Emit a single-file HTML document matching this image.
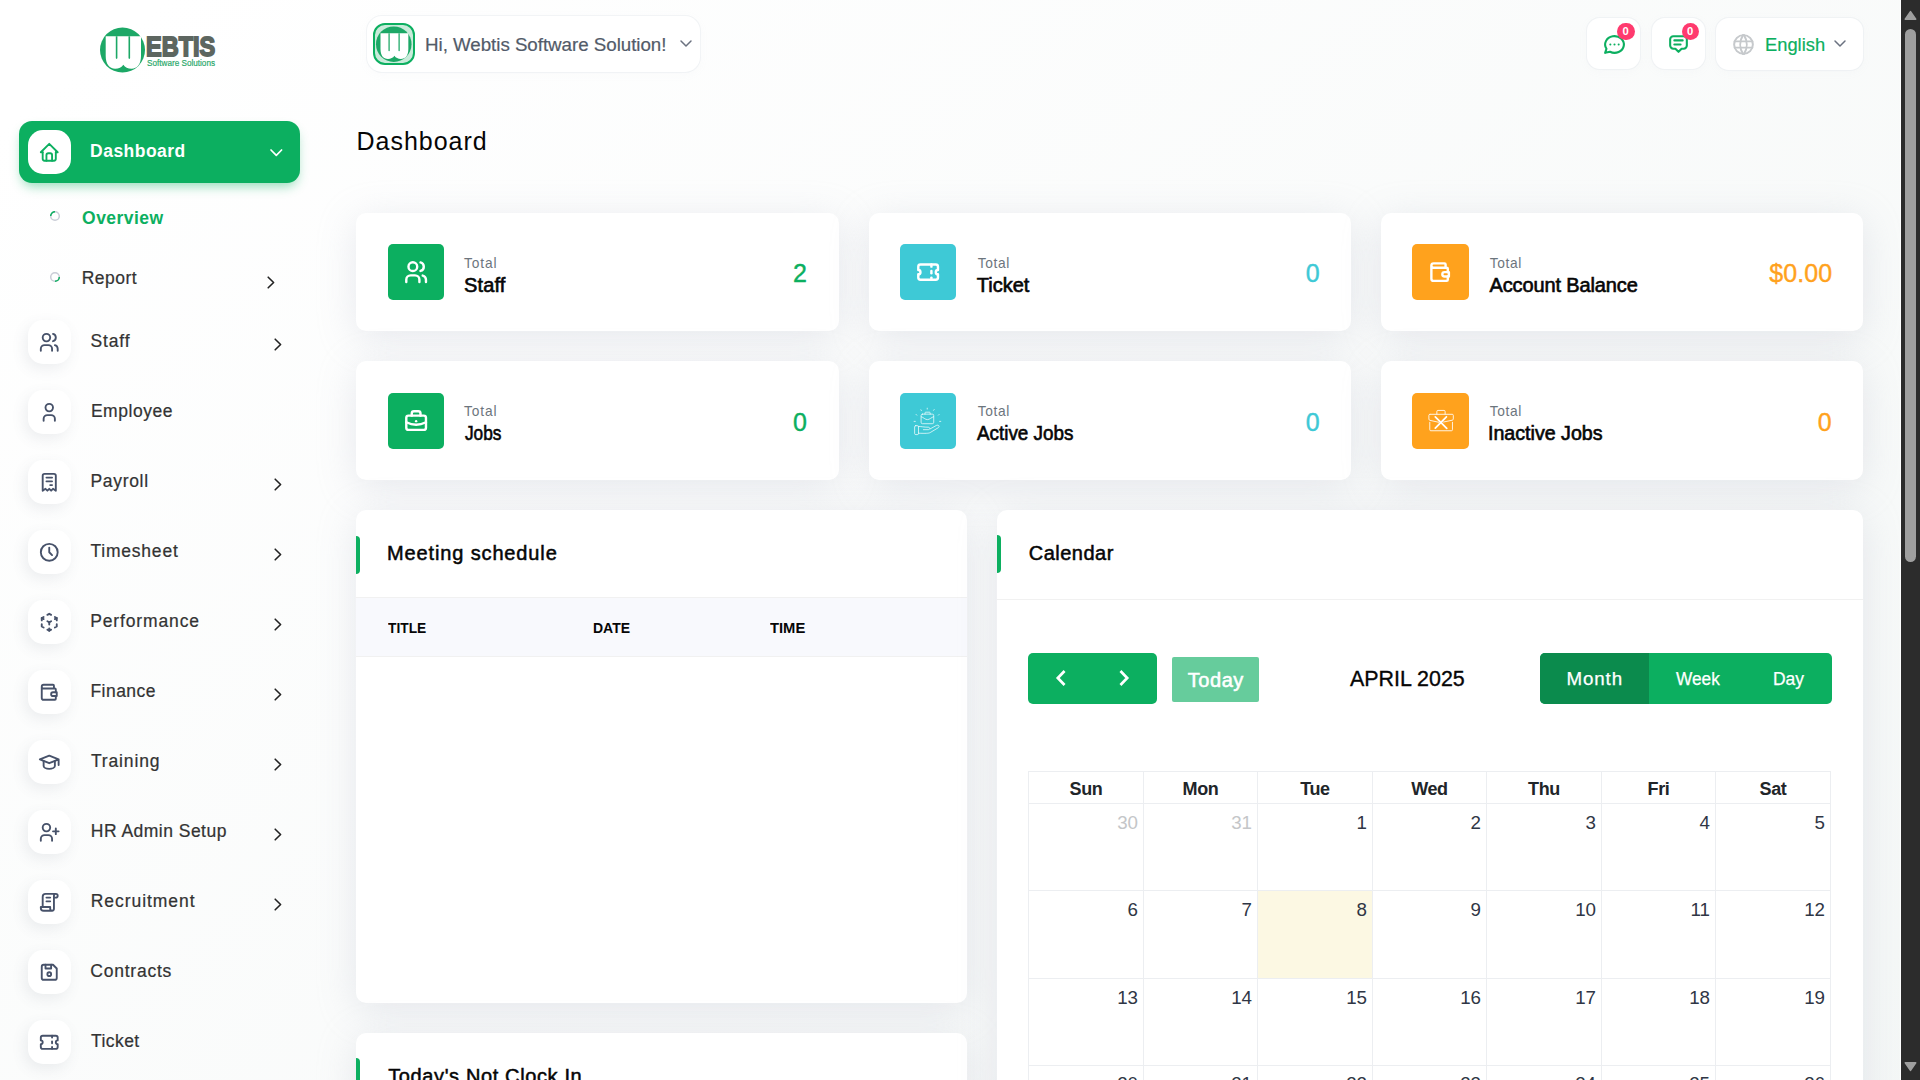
<!DOCTYPE html>
<html lang="en">
<head>
<meta charset="utf-8">
<title>Dashboard</title>
<style>
*{box-sizing:border-box;margin:0;padding:0}
html,body{width:1920px;height:1080px;overflow:hidden}
body{font-family:"Liberation Sans",sans-serif;color:#293240;background:#fff}
#page{position:relative;width:1920px;height:1080px;overflow:hidden;
 background:linear-gradient(141.55deg,rgba(240,244,243,0) 3.46%,#f0f4f3 99.86%) 0 0/1901px 2111px no-repeat,#fff}
.abs{position:absolute}
.t{position:absolute;white-space:nowrap;line-height:1}
svg{display:block;overflow:visible}

/* scrollbar */
#sb{position:absolute;left:1901px;top:0;width:19px;height:1080px;background:#2c2c2c}
#sbw{position:absolute;left:1900px;top:0;width:1px;height:1080px;background:#fff}
#sb .thumb{position:absolute;left:4px;top:29px;width:11px;height:533px;border-radius:6px;background:#9f9f9f}

/* sidebar */
.nav-active{position:absolute;left:19px;top:121px;width:281px;height:62px;border-radius:13px;background:#0caf60;
 box-shadow:0 6px 12px -3px rgba(12,175,96,.45)}
.ibox{position:absolute;left:28px;width:43px;height:43.500px;border-radius:15px;background:#fff;
 box-shadow:-3px 5px 14px rgba(90,100,120,.10)}
.ibox svg{position:absolute;left:10px;top:11.100px;width:22.500px;height:22.500px;fill:none;stroke:#47526a;stroke-width:2;stroke-linecap:round;stroke-linejoin:round}
.nl{-webkit-text-stroke-width:.22px;position:absolute;left:90px;font-size:17.5px;line-height:1;color:#333;white-space:nowrap;}
.chev{position:absolute;left:274px;width:8px;height:13px}
.chev svg{width:8px;height:13px;fill:none;stroke:#222;stroke-width:1.600;stroke-linecap:round;stroke-linejoin:round}

/* header */
.hbox{position:absolute;background:#fff;border-radius:13px;box-shadow:0 0 0 1px rgba(232,236,240,.5),0 2px 10px rgba(182,186,203,.06)}
.badge{position:absolute;width:17.500px;height:17.500px;border-radius:50%;background:#ff3a6e;color:#fff;font-size:11.250px;font-weight:700;line-height:17.500px;text-align:center}

/* cards */
.card{position:absolute;background:#fff;border-radius:10px;box-shadow:0 7px 38px rgba(182,186,203,.30)}
.sic{position:absolute;left:31px;top:31px;width:56px;height:56px;border-radius:5px}
.sic svg{position:absolute;left:14.900px;top:14.900px;width:26.250px;height:26.250px;fill:none;stroke:#fff;stroke-width:2.200;stroke-linecap:round;stroke-linejoin:round}
.stot{position:absolute;left:108px;top:44.06px;font-size:13.750px;line-height:1;color:#6c757d;}
.snam{position:absolute;left:108px;top:61.77px;font-size:20px;line-height:1;color:#060606;-webkit-text-stroke:.62px #060606;white-space:nowrap}
.sval{-webkit-text-stroke-width:.4px;position:absolute;left:400px;top:47.64px;font-size:25px;line-height:1;white-space:nowrap}
.sic.o{width:57px}.sic.o svg{margin-left:.500px}
.g{background:#0caf60}.c{background:#3ec9d6}.o{background:#ffa21d}
.tg{color:#0caf60}.tc{color:#3ec9d6}.to{color:#ffa21d}
.ctitle{position:absolute;left:32px;font-size:20px;line-height:1;color:#060606;-webkit-text-stroke:.5px #060606;white-space:nowrap}
.cbar{position:absolute;left:0;width:4px;height:38px;background:#0caf60;border-radius:0 4px 4px 0}
.th{font-size:15px;font-weight:700;color:#060606}
.vb{top:159.13px;font-size:18.750px;color:#fff;-webkit-text-stroke:.25px #fff}
.dh{text-align:center;letter-spacing:-.4px;font-size:18px;font-weight:700;color:#212529}
.dn{text-align:right;font-size:18.750px;color:#2f3645}
.o2{color:#c4c6c8}
</style>
</head>
<body>
<div id="page">

<!-- SIDEBAR -->
<div id="sidebar">
<!-- logo -->
<svg class="abs" style="left:100px;top:26.5px;width:45px;height:46px" viewBox="0 0 45 46">
<circle cx="22.5" cy="23" r="22.5" fill="#1ca866"/>
<path d="M5.700 9.300H41V29C41 37 37.500 41.700 31.500 41.700C28 41.700 25 40.500 23.350 37.800C21.700 40.500 18.700 41.700 15.200 41.700C9.200 41.700 5.700 37 5.700 29Z" fill="#fff"/>
<path d="M15.800 9.300h1.600v21.800a.8.800 0 0 1-1.600 0z" fill="#1ca866"/>
<path d="M28.500 9.300h1.600v21.800a.8.800 0 0 1-1.600 0z" fill="#1ca866"/>
</svg>
<svg class="abs" style="left:145px;top:30px;width:75px;height:42px" viewBox="0 0 75 42">
<text x="1.000" y="25.600" font-family="Liberation Sans, sans-serif" font-weight="700" font-size="28" fill="#5d6660" stroke="#5d6660" stroke-width="1.800" stroke-linejoin="miter" textLength="69.300" lengthAdjust="spacingAndGlyphs">EBTIS</text>
<text x="2" y="36" font-family="Liberation Sans, sans-serif" font-size="9.600" fill="#2aa86a" stroke="#2aa86a" stroke-width=".2" textLength="68" lengthAdjust="spacingAndGlyphs">Software Solutions</text>
</svg>

<!-- active item -->
<div class="nav-active"></div>
<div class="ibox" style="top:130px;height:44px;box-shadow:none"><svg viewBox="0 0 24 24" style="stroke:#0caf60"><polyline points="5 12 3 12 12 3 21 12 19 12"/><path d="M5 12v7a2 2 0 0 0 2 2h10a2 2 0 0 0 2 -2v-7"/><path d="M9 21v-6a2 2 0 0 1 2 -2h2a2 2 0 0 1 2 2v6"/></svg></div>
<div class="nl" id="nl0" style="-webkit-text-stroke-width:0;color:#fff;font-weight:700;top:143.00px;left:90.10px;letter-spacing:0.473px">Dashboard</div>
<svg class="abs" style="left:270px;top:148.5px;width:13px;height:8px;fill:none;stroke:#fff;stroke-width:1.7;stroke-linecap:round;stroke-linejoin:round" viewBox="0 0 13 8"><path d="M1 1l5.300 5.300l5.300 -5.300"/></svg>

<!-- submenu -->
<svg class="abs" style="left:49px;top:210px;width:12px;height:12px" viewBox="0 0 12 12"><circle cx="6" cy="6" r="4.300" fill="none" stroke="#c9ccd6" stroke-width="1.500"/><path d="M1.700 6a4.300 4.300 0 0 1 4.300 -4.300" fill="none" stroke="#0caf60" stroke-width="1.500"/></svg>
<div class="nl" id="nl1" style="-webkit-text-stroke-width:0;font-size:17.5px;color:#0caf60;font-weight:700;top:210.00px;left:82.10px;letter-spacing:0.451px">Overview</div>
<svg class="abs" style="left:49px;top:270.500px;width:12px;height:12px" viewBox="0 0 12 12"><circle cx="6" cy="6" r="4.300" fill="none" stroke="#c9ccd6" stroke-width="1.500"/><path d="M10.300 6a4.300 4.300 0 0 1 -4.300 4.300" fill="none" stroke="#0caf60" stroke-width="1.500"/></svg>
<div class="nl" id="nl2" style="font-size:17.5px;top:270.00px;left:81.80px;letter-spacing:0.440px">Report</div>
<div class="chev" style="left:267px;top:275.500px"><svg viewBox="0 0 8 13"><path d="M1.200 1.200l5.400 5.300l-5.400 5.300"/></svg></div>

<!-- items -->
<div class="ibox" style="top:320.3px"><svg viewBox="0 0 24 24"><circle cx="9" cy="7" r="4"/><path d="M3 21v-2a4 4 0 0 1 4 -4h4a4 4 0 0 1 4 4v2"/><path d="M16 3.13a4 4 0 0 1 0 7.75"/><path d="M21 21v-2a4 4 0 0 0 -3 -3.85"/></svg></div>
<div class="nl" id="nl3" style="top:333.00px;left:90.40px;letter-spacing:0.900px">Staff</div>
<div class="chev" style="top:338.0px"><svg viewBox="0 0 8 13"><path d="M1.2 1.2l5.4 5.3l-5.4 5.3"/></svg></div>
<div class="ibox" style="top:390.3px"><svg viewBox="0 0 24 24"><circle cx="12" cy="7" r="4"/><path d="M6 21v-2a4 4 0 0 1 4 -4h4a4 4 0 0 1 4 4v2"/></svg></div>
<div class="nl" id="nl4" style="top:403.00px;left:90.90px;letter-spacing:0.549px">Employee</div>
<div class="ibox" style="top:460.3px"><svg viewBox="0 0 24 24"><path d="M5 21v-16a2 2 0 0 1 2 -2h10a2 2 0 0 1 2 2v16l-3 -2l-2 2l-2 -2l-2 2l-2 -2l-3 2m4 -14h6m-6 4h6m-2 4h2"/></svg></div>
<div class="nl" id="nl5" style="top:473.00px;left:90.40px;letter-spacing:0.699px">Payroll</div>
<div class="chev" style="top:478.0px"><svg viewBox="0 0 8 13"><path d="M1.2 1.2l5.4 5.3l-5.4 5.3"/></svg></div>
<div class="ibox" style="top:530.3px"><svg viewBox="0 0 24 24"><circle cx="12" cy="12" r="9"/><polyline points="12 7 12 12 15 15"/></svg></div>
<div class="nl" id="nl6" style="top:543.00px;left:90.40px;letter-spacing:0.793px">Timesheet</div>
<div class="chev" style="top:548.0px"><svg viewBox="0 0 8 13"><path d="M1.2 1.2l5.4 5.3l-5.4 5.3"/></svg></div>
<div class="ibox" style="top:600.3px"><svg viewBox="0 0 24 24"><path d="M6 17.6l-2 -1.1v-2.5"/><path d="M4 10v-2.5l2 -1.1"/><path d="M10 4.1l2 -1.1l2 1.1"/><path d="M18 6.4l2 1.1v2.5"/><path d="M20 14v2.5l-2 1.12"/><path d="M14 19.9l-2 1.1l-2 -1.1"/><path d="M12 12l2 -1.1"/><path d="M18 8.6l2 -1.1"/><path d="M12 12v2.5"/><path d="M12 18.5v2.5"/><path d="M12 12l-2 -1.12"/><path d="M6 8.6l-2 -1.1"/></svg></div>
<div class="nl" id="nl7" style="top:613.00px;left:90.20px;letter-spacing:0.870px">Performance</div>
<div class="chev" style="top:618.0px"><svg viewBox="0 0 8 13"><path d="M1.2 1.2l5.4 5.3l-5.4 5.3"/></svg></div>
<div class="ibox" style="top:670.3px"><svg viewBox="0 0 24 24"><path d="M17 8v-3a1 1 0 0 0 -1 -1h-10a2 2 0 0 0 0 4h12a1 1 0 0 1 1 1v3m0 4v3a1 1 0 0 1 -1 1h-12a2 2 0 0 1 -2 -2v-12"/><path d="M20 12v4h-4a2 2 0 0 1 0 -4h4"/></svg></div>
<div class="nl" id="nl8" style="top:683.00px;left:90.40px;letter-spacing:0.481px">Finance</div>
<div class="chev" style="top:688.0px"><svg viewBox="0 0 8 13"><path d="M1.2 1.2l5.4 5.3l-5.4 5.3"/></svg></div>
<div class="ibox" style="top:740.3px"><svg viewBox="0 0 24 24"><path d="M22 9l-10 -4l-10 4l10 4l10 -4v6"/><path d="M6 10.6v5.4a6 3 0 0 0 12 0v-5.4"/></svg></div>
<div class="nl" id="nl9" style="top:753.00px;left:90.90px;letter-spacing:0.872px">Training</div>
<div class="chev" style="top:758.0px"><svg viewBox="0 0 8 13"><path d="M1.2 1.2l5.4 5.3l-5.4 5.3"/></svg></div>
<div class="ibox" style="top:810.3px"><svg viewBox="0 0 24 24"><circle cx="9" cy="7" r="4"/><path d="M3 21v-2a4 4 0 0 1 4 -4h4a4 4 0 0 1 4 4v2"/><path d="M16 11h6m-3 -3v6"/></svg></div>
<div class="nl" id="nl10" style="top:823.00px;left:90.80px;letter-spacing:0.479px">HR Admin Setup</div>
<div class="chev" style="top:828.0px"><svg viewBox="0 0 8 13"><path d="M1.2 1.2l5.4 5.3l-5.4 5.3"/></svg></div>
<div class="ibox" style="top:880.3px"><svg viewBox="0 0 24 24"><path d="M15 21h-9a3 3 0 0 1 -3 -3v-1h10v2a2 2 0 0 0 4 0v-14a2 2 0 1 1 2 2h-2m2 -4h-11a3 3 0 0 0 -3 3v11"/><path d="M9 7h4"/><path d="M9 11h4"/></svg></div>
<div class="nl" id="nl11" style="top:893.00px;left:90.80px;letter-spacing:0.940px">Recruitment</div>
<div class="chev" style="top:898.0px"><svg viewBox="0 0 8 13"><path d="M1.2 1.2l5.4 5.3l-5.4 5.3"/></svg></div>
<div class="ibox" style="top:950.3px"><svg viewBox="0 0 24 24"><path d="M6 4h10l4 4v10a2 2 0 0 1 -2 2h-12a2 2 0 0 1 -2 -2v-12a2 2 0 0 1 2 -2"/><circle cx="12" cy="14" r="2"/><polyline points="14 4 14 8 8 8 8 4"/></svg></div>
<div class="nl" id="nl12" style="top:963.00px;left:90.30px;letter-spacing:0.768px">Contracts</div>
<div class="ibox" style="top:1020.3px"><svg viewBox="0 0 24 24"><path d="M15 5v2"/><path d="M15 11v2"/><path d="M15 17v2"/><path d="M5 5h14a2 2 0 0 1 2 2v3a2 2 0 0 0 0 4v3a2 2 0 0 1 -2 2h-14a2 2 0 0 1 -2 -2v-3a2 2 0 0 0 0 -4v-3a2 2 0 0 1 2 -2"/></svg></div>
<div class="nl" id="nl13" style="top:1033.00px;left:90.90px;letter-spacing:0.460px">Ticket</div>
</div>

<!-- HEADER -->
<div id="header">
<div class="hbox" style="left:366.500px;top:15.500px;width:333.500px;height:56px;border-radius:15px"></div>
<div class="abs" style="left:373px;top:23px;width:42px;height:42px;border-radius:12px;border:2.5px solid #0caf60;background:#c9ebda;overflow:hidden">
<svg class="abs" style="left:1px;top:.5px;width:35.500px;height:36.300px" viewBox="0 0 45 46"><circle cx="22.5" cy="23" r="22.500" fill="#1ca866"/><path d="M5.700 9.300H41V29C41 37 37.500 41.700 31.500 41.700C28 41.700 25 40.500 23.350 37.800C21.700 40.500 18.700 41.700 15.200 41.700C9.200 41.700 5.700 37 5.700 29Z" fill="#fff"/>
<path d="M15.800 9.300h1.600v21.800a.8.800 0 0 1-1.600 0z" fill="#1ca866"/>
<path d="M28.500 9.300h1.600v21.800a.8.800 0 0 1-1.600 0z" fill="#1ca866"/></svg></div>
<div class="t" id="hi" style="-webkit-text-stroke-width:.2px;font-size:18.750px;color:#525b69;top:36.00px;left:425.00px;letter-spacing:-0.036px">Hi, Webtis Software Solution!</div>
<svg class="abs" style="left:679.500px;top:40px;width:12px;height:8px;fill:none;stroke:#6b7280;stroke-width:1.500;stroke-linecap:round;stroke-linejoin:round" viewBox="0 0 12 8"><path d="M1 1l5 5l5 -5"/></svg>

<div class="hbox" style="left:1587px;top:18px;width:53px;height:51px"></div>
<svg class="abs" style="left:1601.600px;top:31.500px;width:25px;height:25px;fill:none;stroke:#0caf60;stroke-width:2;stroke-linecap:round;stroke-linejoin:round" viewBox="0 0 24 24"><path d="M3 20l1.300 -3.900a9 8 0 1 1 3.400 2.900l-4.700 1"/><path d="M12 12v.01"/><path d="M8 12v.01"/><path d="M16 12v.01"/></svg>
<div class="badge" style="left:1617px;top:22.500px">0</div>

<div class="hbox" style="left:1651.500px;top:18px;width:53.500px;height:51px"></div>
<svg class="abs" style="left:1666px;top:31.300px;width:25px;height:25px;fill:none;stroke:#0caf60;stroke-width:2;stroke-linecap:round;stroke-linejoin:round" viewBox="0 0 24 24"><path d="M12 20l-3 -3h-2a3 3 0 0 1 -3 -3v-6a3 3 0 0 1 3 -3h10a3 3 0 0 1 3 3v6a3 3 0 0 1 -3 3h-2l-3 3"/><path d="M8 9h8"/><path d="M8 13h6"/></svg>
<div class="badge" style="left:1681.500px;top:22.500px">0</div>

<div class="hbox" style="left:1715.600px;top:18px;width:147.400px;height:51.500px"></div>
<svg class="abs" style="left:1731px;top:31.750px;width:25px;height:25px;fill:none;stroke:#c6c9cc;stroke-width:1.900;stroke-linecap:round;stroke-linejoin:round" viewBox="0 0 24 24"><circle cx="12" cy="12" r="9"/><path d="M3.600 9h16.800"/><path d="M3.600 15h16.800"/><path d="M11.500 3a17 17 0 0 0 0 18"/><path d="M12.500 3a17 17 0 0 1 0 18"/></svg>
<div class="t" id="eng" style="-webkit-text-stroke-width:.2px;font-size:18.750px;color:#0caf60;top:36.00px;left:1765.00px;letter-spacing:0.000px;transform:scaleX(0.9769);transform-origin:0 0">English</div>
<svg class="abs" style="left:1834px;top:40.400px;width:12px;height:8px;fill:none;stroke:#6b7280;stroke-width:1.500;stroke-linecap:round;stroke-linejoin:round" viewBox="0 0 12 8"><path d="M1 1l5 5l5 -5"/></svg>

<div class="t" id="h1" style="font-size:25px;color:#060606;top:129.00px;left:356.50px;letter-spacing:0.977px">Dashboard</div>
</div>

<!-- MAIN -->
<div id="main">
<div class="card" style="left:356.300px;top:213px;width:482.600px;height:118px">
<div class="sic g" style="left:31.700px"><svg viewBox="0 0 24 24"><circle cx="9" cy="7" r="4"/><path d="M3 21v-2a4 4 0 0 1 4 -4h4a4 4 0 0 1 4 4v2"/><path d="M16 3.130a4 4 0 0 1 0 7.750"/><path d="M21 21v-2a4 4 0 0 0 -3 -3.850"/></svg></div>
<div class="stot" id="tot0" style="top:44.00px;left:107.80px;letter-spacing:0.850px">Total</div><div class="snam" id="nam0" style="top:62.00px;left:107.80px;letter-spacing:0.125px">Staff</div><div class="sval tg" id="val0" style="top:48.00px;left:436.60px;letter-spacing:0.000px">2</div></div>
<div class="card" style="left:869px;top:213px;width:481.800px;height:118px">
<div class="sic c"><svg viewBox="0 0 24 24"><path d="M15 5v2"/><path d="M15 11v2"/><path d="M15 17v2"/><path d="M5 5h14a2 2 0 0 1 2 2v3a2 2 0 0 0 0 4v3a2 2 0 0 1 -2 2h-14a2 2 0 0 1 -2 -2v-3a2 2 0 0 0 0 -4v-3a2 2 0 0 1 2 -2"/></svg></div>
<div class="stot" id="tot1" style="top:44.00px;left:108.80px;letter-spacing:0.600px">Total</div><div class="snam" id="nam1" style="top:62.00px;left:107.80px;letter-spacing:0.000px">Ticket</div><div class="sval tc" id="val1" style="top:48.00px;left:436.80px;letter-spacing:0.000px">0</div></div>
<div class="card" style="left:1381px;top:213px;width:482px;height:118px">
<div class="sic o"><svg viewBox="0 0 24 24"><path d="M17 8v-3a1 1 0 0 0 -1 -1h-10a2 2 0 0 0 0 4h12a1 1 0 0 1 1 1v3m0 4v3a1 1 0 0 1 -1 1h-12a2 2 0 0 1 -2 -2v-12"/><path d="M20 12v4h-4a2 2 0 0 1 0 -4h4"/></svg></div>
<div class="stot" id="tot2" style="top:44.00px;left:108.80px;letter-spacing:0.600px">Total</div><div class="snam" id="nam2" style="top:62.00px;left:108.50px;letter-spacing:-0.128px">Account Balance</div><div class="sval to" id="val2" style="top:48.00px;left:388.20px;letter-spacing:0.100px">$0.00</div></div>
<div class="card" style="left:356.300px;top:361px;width:482.600px;height:119px">
<div class="sic g" style="left:31.700px;top:32px"><svg viewBox="0 0 24 24"><rect x="3" y="7" width="18" height="13" rx="2"/><path d="M8 7v-2a2 2 0 0 1 2 -2h4a2 2 0 0 1 2 2v2"/><path d="M12 12v.01"/><path d="M3 13a20 20 0 0 0 18 0"/></svg></div>
<div class="stot" id="tot3" style="top:44.00px;left:107.80px;letter-spacing:0.850px">Total</div><div class="snam" id="nam3" style="top:62.00px;left:108.60px;letter-spacing:0.000px;transform:scaleX(0.8615);transform-origin:0 0">Jobs</div><div class="sval tg" id="val3" style="top:49.00px;left:436.60px;letter-spacing:0.000px">0</div></div>
<div class="card" style="left:869px;top:361px;width:481.800px;height:119px">
<div class="sic c" style="top:32px"><svg viewBox="280 340 445 445" style="left:13.100px;top:14.100px;width:28.840px;height:28.840px;stroke-width:12;stroke:rgba(255,255,255,.92)"><path d="M500 358v14M402 383l7 12M607 379l-9 12M328 455l10 11M683 455l-11 11M297 562h18M691 562h18"/><rect x="405" y="450" width="195" height="148" rx="22"/><path d="M465 450v-18a12 12 0 0 1 12 -12h56a12 12 0 0 1 12 12v18"/><path d="M408 490C440 500 470 535 502 535C535 535 565 500 597 490"/><rect x="305" y="628" width="60" height="138" rx="18"/><path d="M365 640C420 640 440 652 515 652C545 652 548 688 515 690L440 690"/><path d="M545 678L640 625C670 610 700 635 670 660L545 735C520 748 480 748 365 745"/></svg></div>
<div class="stot" id="tot4" style="top:44.00px;left:108.80px;letter-spacing:0.600px">Total</div><div class="snam" id="nam4" style="top:62.00px;left:107.80px;letter-spacing:0.000px;transform:scaleX(0.9428);transform-origin:0 0">Active Jobs</div><div class="sval tc" id="val4" style="top:49.00px;left:436.80px;letter-spacing:0.000px">0</div></div>
<div class="card" style="left:1381px;top:361px;width:482px;height:119px">
<div class="sic o" style="top:32px"><svg viewBox="300 370 440 440" style="left:14.400px;top:16.070px;width:28.500px;height:28.500px;stroke-width:14;stroke:rgba(255,255,255,.95)"><path d="M452 448v-38a18 18 0 0 1 18 -18h92a18 18 0 0 1 18 18v38"/><path d="M345 452h345a16 16 0 0 1 16 16v55a20 20 0 0 1 -16 20l-135 28M480 575l-135 -30a20 20 0 0 1 -16 -20v-57a16 16 0 0 1 16 -16"/><path d="M343 575v115a16 16 0 0 0 16 16h318a16 16 0 0 0 16 -16v-115"/><path d="M428 492L605 668M600 490L428 665" stroke-width="27" stroke="#fff"/></svg></div>
<div class="stot" id="tot5" style="top:44.00px;left:108.80px;letter-spacing:0.600px">Total</div><div class="snam" id="nam5" style="top:62.00px;left:106.50px;letter-spacing:0.000px;transform:scaleX(0.9811);transform-origin:0 0">Inactive Jobs</div><div class="sval to" id="val5" style="top:49.00px;left:436.80px;letter-spacing:0.000px">0</div></div>
<div class="card" style="left:356px;top:510px;width:611px;height:492.500px;overflow:hidden">
<div class="cbar" style="top:25.500px"></div>
<div class="ctitle" id="ms" style="top:33.00px;left:31.00px;letter-spacing:0.867px">Meeting schedule</div>
<div class="abs" style="left:0;top:87px;width:611px;height:60px;background:#f8f9fd;border-top:1px solid #f1f1f1;border-bottom:1px solid #f1f1f1"></div>
<div class="t th" id="th1" style="top:110.00px;left:32.00px;letter-spacing:0.000px;transform:scaleX(0.9172);transform-origin:0 0">TITLE</div>
<div class="t th" id="th2" style="top:110.00px;left:236.50px;letter-spacing:0.000px;transform:scaleX(0.9333);transform-origin:0 0">DATE</div>
<div class="t th" id="th3" style="top:110.00px;left:413.50px;letter-spacing:0.000px;transform:scaleX(0.9845);transform-origin:0 0">TIME</div>
</div>
<div class="card" style="left:356px;top:1032.700px;width:611px;height:300px;overflow:hidden">
<div class="cbar" style="top:25.500px"></div>
<div class="ctitle" id="nc" style="top:33.00px;left:32.20px;letter-spacing:0.623px">Today's Not Clock In</div>
</div>

<div class="card" style="left:997px;top:510px;width:866px;height:900px;overflow:hidden">
<div class="cbar" style="top:25px"></div>
<div class="ctitle" id="cal" style="top:33.00px;left:31.75px;letter-spacing:0.493px">Calendar</div>
<div class="abs" style="left:0;top:89px;width:866px;height:1px;background:#f1f1f1"></div>
<div class="abs" style="left:31px;top:143px;width:129px;height:51px;border-radius:5px;background:#0caf60"></div>
<svg class="abs" style="left:58.700px;top:159.800px;width:10px;height:16px;fill:none;stroke:#fff;stroke-width:2.700;stroke-linecap:square;stroke-linejoin:miter" viewBox="0 0 10 16"><path d="M7.600 2l-5.800 6l5.800 6"/></svg>
<svg class="abs" style="left:122.300px;top:159.800px;width:10px;height:16px;fill:none;stroke:#fff;stroke-width:2.700;stroke-linecap:square;stroke-linejoin:miter" viewBox="0 0 10 16"><path d="M2.400 2l5.800 6l-5.800 6"/></svg>
<div class="abs" style="left:175px;top:147px;width:87px;height:45px;border-radius:2px;background:#66cc9c"></div>
<div class="t" id="today" style="font-size:20px;color:#fff;-webkit-text-stroke:.55px #fff;top:160.00px;left:190.70px;letter-spacing:0.575px">Today</div>
<div class="t" id="apr" style="font-size:22.500px;color:#060606;-webkit-text-stroke:.35px #060606;top:158.00px;left:353.10px;letter-spacing:0.000px;transform:scaleX(0.9520);transform-origin:0 0">APRIL 2025</div>
<div class="abs" style="left:543px;top:143px;width:292px;height:51px;border-radius:5px;background:#0caf60;overflow:hidden"><div class="abs" style="left:0;top:0;width:109px;height:51px;background:#0b8b4d"></div></div>
<div class="t vb" id="bm" style="top:160.00px;left:569.50px;letter-spacing:0.875px">Month</div>
<div class="t vb" id="bw" style="top:160.00px;left:678.50px;letter-spacing:0.000px;transform:scaleX(0.9198);transform-origin:0 0">Week</div>
<div class="t vb" id="bd" style="top:160.00px;left:776.30px;letter-spacing:0.000px;transform:scaleX(0.9311);transform-origin:0 0">Day</div>
<div class="abs" style="left:261px;top:381px;width:114px;height:87px;background:#fcf8e3"></div><div class="abs" style="left:31px;top:261px;width:803px;height:1px;background:#eceef1"></div><div class="abs" style="left:31px;top:293px;width:803px;height:1px;background:#eceef1"></div><div class="abs" style="left:31px;top:380px;width:803px;height:1px;background:#eceef1"></div><div class="abs" style="left:31px;top:468px;width:803px;height:1px;background:#eceef1"></div><div class="abs" style="left:31px;top:555px;width:803px;height:1px;background:#eceef1"></div><div class="abs" style="left:31px;top:643px;width:803px;height:1px;background:#eceef1"></div><div class="abs" style="left:31px;top:261px;width:1px;height:400px;background:#eceef1"></div><div class="abs" style="left:146px;top:261px;width:1px;height:400px;background:#eceef1"></div><div class="abs" style="left:260px;top:261px;width:1px;height:400px;background:#eceef1"></div><div class="abs" style="left:375px;top:261px;width:1px;height:400px;background:#eceef1"></div><div class="abs" style="left:489px;top:261px;width:1px;height:400px;background:#eceef1"></div><div class="abs" style="left:604px;top:261px;width:1px;height:400px;background:#eceef1"></div><div class="abs" style="left:718px;top:261px;width:1px;height:400px;background:#eceef1"></div><div class="abs" style="left:833px;top:261px;width:1px;height:400px;background:#eceef1"></div><div class="t dh" style="left:32px;width:114px;top:269.96px">Sun</div><div class="t dh" style="left:147px;width:113px;top:269.96px">Mon</div><div class="t dh" style="left:261px;width:114px;top:269.96px">Tue</div><div class="t dh" style="left:376px;width:113px;top:269.96px">Wed</div><div class="t dh" style="left:490px;width:114px;top:269.96px">Thu</div><div class="t dh" style="left:605px;width:113px;top:269.96px">Fri</div><div class="t dh" style="left:719px;width:114px;top:269.96px">Sat</div><div class="t dn o2" style="left:31px;width:110px;top:304.10px">30</div><div class="t dn o2" style="left:146px;width:109px;top:304.10px">31</div><div class="t dn" style="left:260px;width:110px;top:304.10px">1</div><div class="t dn" style="left:375px;width:109px;top:304.10px">2</div><div class="t dn" style="left:489px;width:110px;top:304.10px">3</div><div class="t dn" style="left:604px;width:109px;top:304.10px">4</div><div class="t dn" style="left:718px;width:110px;top:304.10px">5</div><div class="t dn" style="left:31px;width:110px;top:390.53px">6</div><div class="t dn" style="left:146px;width:109px;top:390.53px">7</div><div class="t dn" style="left:260px;width:110px;top:390.53px">8</div><div class="t dn" style="left:375px;width:109px;top:390.53px">9</div><div class="t dn" style="left:489px;width:110px;top:390.53px">10</div><div class="t dn" style="left:604px;width:109px;top:390.53px">11</div><div class="t dn" style="left:718px;width:110px;top:390.53px">12</div><div class="t dn" style="left:31px;width:110px;top:478.60px">13</div><div class="t dn" style="left:146px;width:109px;top:478.60px">14</div><div class="t dn" style="left:260px;width:110px;top:478.60px">15</div><div class="t dn" style="left:375px;width:109px;top:478.60px">16</div><div class="t dn" style="left:489px;width:110px;top:478.60px">17</div><div class="t dn" style="left:604px;width:109px;top:478.60px">18</div><div class="t dn" style="left:718px;width:110px;top:478.60px">19</div><div class="t dn" style="left:31px;width:110px;top:565.33px">20</div><div class="t dn" style="left:146px;width:109px;top:565.33px">21</div><div class="t dn" style="left:260px;width:110px;top:565.33px">22</div><div class="t dn" style="left:375px;width:109px;top:565.33px">23</div><div class="t dn" style="left:489px;width:110px;top:565.33px">24</div><div class="t dn" style="left:604px;width:109px;top:565.33px">25</div><div class="t dn" style="left:718px;width:110px;top:565.33px">26</div></div>
</div>

<!-- SCROLLBAR -->
<div id="sbw"></div>
<div id="sb"><svg class="abs" style="left:3px;top:9.500px;width:13px;height:11px" viewBox="0 0 13 11"><path d="M6.500 1.700L11.700 9.200H1.300Z" fill="#9f9f9f" stroke="#9f9f9f" stroke-width="1.600" stroke-linejoin="round"/></svg><div class="thumb"></div><svg class="abs" style="left:3px;top:1060.500px;width:13px;height:11px" viewBox="0 0 13 11"><path d="M6.500 9.300L11.700 1.800H1.300Z" fill="#9f9f9f" stroke="#9f9f9f" stroke-width="1.600" stroke-linejoin="round"/></svg></div>

</div>
</body>
</html>
